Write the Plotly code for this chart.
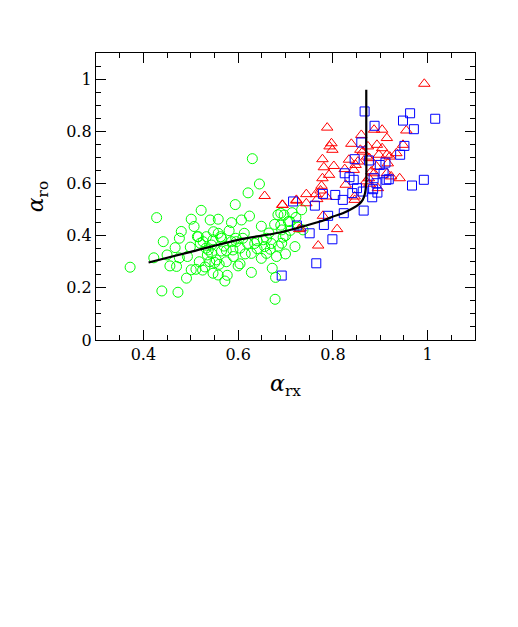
import plotly.graph_objects as go

# green circles
green_x = [0.372, 0.428, 0.442, 0.422, 0.439, 0.473, 0.450, 0.456, 0.470, 0.467,
           0.476, 0.480, 0.476, 0.493, 0.491, 0.499, 0.501, 0.507, 0.501, 0.511,
           0.516, 0.518, 0.522, 0.525, 0.526, 0.532, 0.533, 0.535, 0.540, 0.544,
           0.547, 0.547, 0.551, 0.554, 0.558, 0.558, 0.558, 0.563, 0.565, 0.572,
           0.577, 0.575, 0.581, 0.586, 0.586, 0.589, 0.594, 0.596, 0.600, 0.604,
           0.604, 0.607, 0.613, 0.621, 0.624, 0.628, 0.628, 0.630, 0.635, 0.645,
           0.649, 0.649, 0.653, 0.656, 0.660, 0.668, 0.672, 0.677, 0.679, 0.678,
           0.681, 0.684, 0.690, 0.697, 0.714, 0.709, 0.720, 0.692, 0.692, 0.695,
           0.734, 0.722, 0.706, 0.737, 0.727, 0.541, 0.514, 0.520, 0.537, 0.544,
           0.548, 0.565, 0.570, 0.595, 0.610, 0.620, 0.640, 0.660, 0.670, 0.685,
           0.700, 0.710, 0.690, 0.700, 0.665, 0.640, 0.615, 0.590, 0.575, 0.560,
           0.530]
green_y = [0.279, 0.469, 0.377, 0.315, 0.188, 0.183, 0.326, 0.284, 0.282, 0.354,
           0.390, 0.416, 0.315, 0.320, 0.237, 0.356, 0.463, 0.435, 0.269, 0.271,
           0.396, 0.300, 0.497, 0.268, 0.377, 0.352, 0.396, 0.326, 0.300, 0.332,
           0.384, 0.256, 0.297, 0.307, 0.463, 0.409, 0.249, 0.396, 0.341, 0.226,
           0.248, 0.343, 0.419, 0.450, 0.377, 0.345, 0.519, 0.377, 0.284, 0.292,
           0.352, 0.460, 0.409, 0.564, 0.475, 0.332, 0.259, 0.695, 0.370, 0.598,
           0.436, 0.313, 0.384, 0.358, 0.332, 0.348, 0.275, 0.443, 0.240, 0.156,
           0.320, 0.480, 0.486, 0.479, 0.488, 0.454, 0.358, 0.422, 0.371, 0.394,
           0.499, 0.470, 0.454, 0.422, 0.432, 0.460, 0.396, 0.371, 0.345, 0.364,
           0.415, 0.390, 0.360, 0.390, 0.390, 0.370, 0.380, 0.390, 0.370, 0.360,
           0.400, 0.420, 0.440, 0.330, 0.410, 0.350, 0.330, 0.320, 0.300, 0.290,
           0.280]

# red triangles
red_x = [0.993, 0.788, 0.797, 0.793, 0.799, 0.778, 0.781, 0.802, 0.792, 0.778,
         0.776, 0.774, 0.744, 0.764, 0.767, 0.744, 0.786, 0.694, 0.723, 0.779,
         0.732, 0.809, 0.769, 0.839, 0.860, 0.858, 0.863, 0.853, 0.834, 0.848,
         0.825, 0.844, 0.827, 0.846, 0.846, 0.872, 0.877, 0.874, 0.887, 0.904,
         0.914, 0.893, 0.904, 0.897, 0.914, 0.934, 0.948, 0.955, 0.916, 0.892,
         0.881, 0.876, 0.887, 0.914, 0.923, 0.941, 0.895, 0.870, 0.877, 0.920,
         0.656, 0.693, 0.723, 0.729]
red_y = [0.982, 0.814, 0.754, 0.742, 0.729, 0.693, 0.662, 0.667, 0.633, 0.620,
         0.591, 0.573, 0.559, 0.559, 0.540, 0.524, 0.550, 0.518, 0.537, 0.476,
         0.428, 0.425, 0.362, 0.752, 0.786, 0.729, 0.722, 0.684, 0.691, 0.671,
         0.655, 0.652, 0.595, 0.550, 0.537, 0.703, 0.697, 0.742, 0.806, 0.806,
         0.774, 0.748, 0.735, 0.710, 0.710, 0.716, 0.748, 0.803, 0.677, 0.665,
         0.646, 0.620, 0.639, 0.639, 0.627, 0.620, 0.582, 0.608, 0.599, 0.703,
         0.552, 0.518, 0.534, 0.425]

# blue squares
blue_x = [0.867, 0.888, 0.948, 0.963, 1.016, 0.971, 0.951, 0.942, 0.860, 0.846,
          0.876, 0.825, 0.835, 0.844, 0.851, 0.841, 0.863, 0.885, 0.894, 0.883,
          0.892, 0.886, 0.907, 0.913, 0.918, 0.899, 0.911, 0.967, 0.992, 0.779,
          0.805, 0.821, 0.762, 0.716, 0.865, 0.823, 0.790, 0.781, 0.751, 0.799,
          0.724, 0.765, 0.692]
blue_y = [0.876, 0.821, 0.841, 0.869, 0.848, 0.808, 0.744, 0.710, 0.757, 0.693,
          0.688, 0.639, 0.624, 0.614, 0.582, 0.563, 0.569, 0.578, 0.565, 0.547,
          0.601, 0.620, 0.639, 0.614, 0.616, 0.671, 0.680, 0.592, 0.614, 0.560,
          0.556, 0.537, 0.515, 0.531, 0.496, 0.486, 0.476, 0.441, 0.409, 0.386,
          0.439, 0.294, 0.247]

# black model curve
curve_x = [0.411, 0.500, 0.600, 0.688, 0.783, 0.800, 0.821, 0.842, 0.856,
           0.863, 0.867, 0.869, 0.8705, 0.8705, 0.8705]
curve_y = [0.297, 0.338, 0.384, 0.412, 0.460, 0.473, 0.486, 0.505, 0.522,
           0.537, 0.556, 0.575, 0.600, 0.750, 0.959]

fig = go.Figure()

fig.add_trace(go.Scatter(
    x=green_x, y=green_y, mode='markers',
    marker=dict(symbol='circle-open', size=10, color='#00ff00', line=dict(width=1))
))
fig.add_trace(go.Scatter(
    x=red_x, y=red_y, mode='markers',
    marker=dict(symbol='triangle-up-open', size=10, color='#ff0000', line=dict(width=1))
))
fig.add_trace(go.Scatter(
    x=blue_x, y=blue_y, mode='markers',
    marker=dict(symbol='square-open', size=9, color='#0000ff', line=dict(width=1))
))
fig.add_trace(go.Scatter(
    x=curve_x, y=curve_y, mode='lines',
    line=dict(color='black', width=2.2, shape='spline', smoothing=0.6)
))

axis_style = dict(
    showgrid=False, zeroline=False,
    showline=True, linecolor='black', linewidth=1.3, mirror='allticks',
    ticks='inside', ticklen=10, tickwidth=1, tickcolor='black',
    tickfont=dict(family='DejaVu Serif', size=16, color='black'),
)

fig.update_xaxes(
    range=[0.3, 1.1], tick0=0, dtick=0.2,
    minor=dict(dtick=0.05, tick0=0, ticks='inside', ticklen=5, tickcolor='black'),
    title=dict(text='<i>α</i><sub>rx</sub>', standoff=12,
               font=dict(family='DejaVu Serif', size=22, color='black')),
    **axis_style
)
fig.update_yaxes(
    range=[0, 1.1], tick0=0, dtick=0.2,
    minor=dict(dtick=0.05, tick0=0, ticks='inside', ticklen=5, tickcolor='black'),
    title=dict(text='<i>α</i><sub>ro</sub>', standoff=16,
               font=dict(family='DejaVu Serif', size=22, color='black')),
    **axis_style
)

# the page body adds an 8px offset, so margins are shifted to compensate
fig.update_layout(
    width=518, height=627,
    margin=dict(l=88, r=51, t=45, b=295),
    plot_bgcolor='white', paper_bgcolor='white',
    showlegend=False,
)

fig.write_html("out.html")
